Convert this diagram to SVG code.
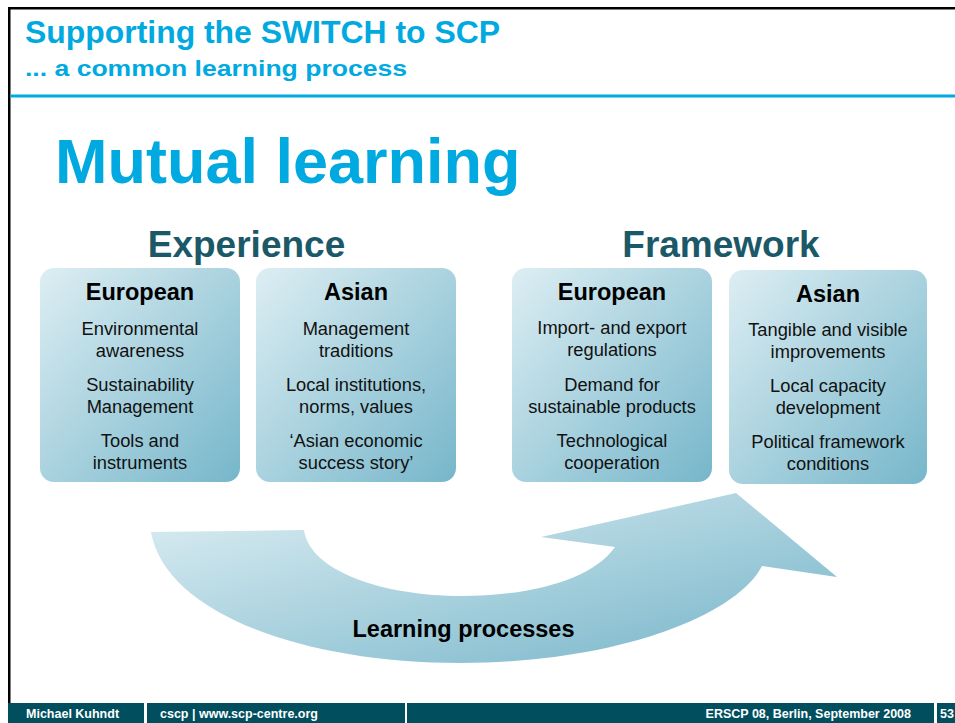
<svg xmlns="http://www.w3.org/2000/svg" width="955" height="723" viewBox="0 0 955 723">
<defs>
<linearGradient id="boxg" x1="0" y1="0" x2="1" y2="1">
<stop offset="0" stop-color="#DDEEF3"/>
<stop offset="1" stop-color="#76B6CA"/>
</linearGradient>
<linearGradient id="arrg" x1="0" y1="0" x2="1" y2="1">
<stop offset="0" stop-color="#DFEFF4"/>
<stop offset="1" stop-color="#74B4C8"/>
</linearGradient>
<style>
.hdr{font-family:"Liberation Sans",Arial,sans-serif;font-weight:bold;fill:#00A9E0}
.sec{font-family:"Liberation Sans",Arial,sans-serif;font-weight:bold;fill:#1B5968;font-size:37px;text-anchor:middle}
.box{fill:url(#boxg)}
.bt{font-family:"Liberation Sans",Arial,sans-serif;font-weight:bold;fill:#000;font-size:23.5px;text-anchor:middle}
.bl{font-family:"Liberation Sans",Arial,sans-serif;fill:#111;font-size:18.3px;text-anchor:middle}
.ft{font-family:"Liberation Sans",Arial,sans-serif;font-weight:bold;fill:#fff;font-size:12.5px}
.fb{fill:#004E5E}
</style>
</defs>
<rect width="955" height="723" fill="#fff"/>
<!-- frame -->
<rect x="8" y="7" width="947" height="2.5" fill="#000"/>
<rect x="8" y="7" width="2.5" height="696" fill="#000"/>
<rect x="10" y="94.5" width="945" height="3" fill="#00A9E0"/>
<text class="hdr" x="25" y="43" font-size="31" textLength="475" lengthAdjust="spacingAndGlyphs">Supporting the SWITCH to SCP</text>
<text class="hdr" x="25" y="75.5" font-size="22.5" textLength="382" lengthAdjust="spacingAndGlyphs">... a common learning process</text>
<text class="hdr" x="55" y="183" font-size="63">Mutual learning</text>
<text class="sec" x="246.5" y="257">Experience</text>
<text class="sec" x="721" y="257">Framework</text>

<g id="connectors">
<path id="learning-arrow" fill="url(#arrg)" d="M151,532 L304,530 C310,572 385,596 461,596 C530,596 592,580 615,547 L541,537 L736,493 L837,577 L762,566 C735,618 610,663 461,663 C300,663 165,612 151,532 Z"/>
<text class="bt" x="463.5" y="637" font-size="24.5">Learning processes</text>
</g>

<g id="exp-european">
<rect class="box" x="40" y="268" width="200" height="214" rx="14"/>
<text class="bt" x="140" y="300">European</text>
<text class="bl" x="140" y="335">Environmental</text>
<text class="bl" x="140" y="357">awareness</text>
<text class="bl" x="140" y="391">Sustainability</text>
<text class="bl" x="140" y="413">Management</text>
<text class="bl" x="140" y="447">Tools and</text>
<text class="bl" x="140" y="469">instruments</text>
</g>
<g id="exp-asian">
<rect class="box" x="256" y="268" width="200" height="214" rx="14"/>
<text class="bt" x="356" y="300">Asian</text>
<text class="bl" x="356" y="335">Management</text>
<text class="bl" x="356" y="357">traditions</text>
<text class="bl" x="356" y="391">Local institutions,</text>
<text class="bl" x="356" y="413">norms, values</text>
<text class="bl" x="356" y="447">‘Asian economic</text>
<text class="bl" x="356" y="469">success story’</text>
</g>
<g id="fw-european">
<rect class="box" x="512" y="268" width="200" height="214" rx="14"/>
<text class="bt" x="612" y="300">European</text>
<text class="bl" x="612" y="334">Import- and export</text>
<text class="bl" x="612" y="356">regulations</text>
<text class="bl" x="612" y="391">Demand for</text>
<text class="bl" x="612" y="413">sustainable products</text>
<text class="bl" x="612" y="447">Technological</text>
<text class="bl" x="612" y="469">cooperation</text>
</g>
<g id="fw-asian">
<rect class="box" x="729" y="270" width="198" height="214" rx="14"/>
<text class="bt" x="828" y="302">Asian</text>
<text class="bl" x="828" y="336">Tangible and visible</text>
<text class="bl" x="828" y="358">improvements</text>
<text class="bl" x="828" y="392">Local capacity</text>
<text class="bl" x="828" y="414">development</text>
<text class="bl" x="828" y="448">Political framework</text>
<text class="bl" x="828" y="470">conditions</text>
</g>

<g id="footer">
<rect class="fb" x="8" y="703" width="136" height="20"/>
<rect class="fb" x="147" y="703" width="258" height="20"/>
<rect class="fb" x="407" y="703" width="527" height="20"/>
<rect class="fb" x="937" y="703" width="18" height="20"/>
<text class="ft" x="26" y="718">Michael Kuhndt</text>
<text class="ft" x="160" y="718">cscp | www.scp-centre.org</text>
<text class="ft" x="911" y="718" text-anchor="end">ERSCP 08, Berlin, September 2008</text>
<text class="ft" x="940" y="718" font-size="11.5">53</text>
</g>
</svg>
